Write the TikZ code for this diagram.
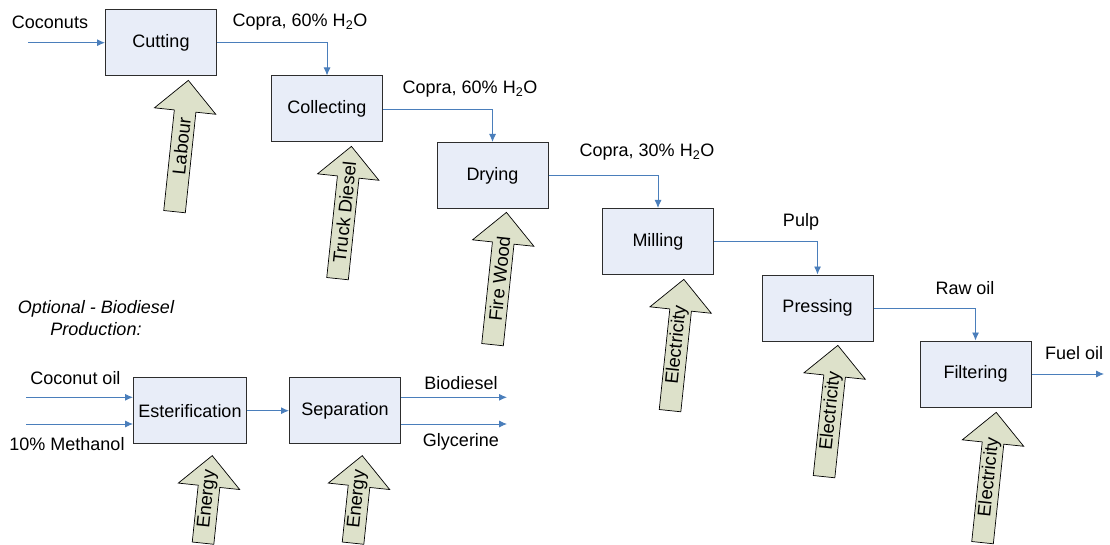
\documentclass[tikz,border=0pt]{standalone}
\usepackage{fontspec}
\setmainfont{Liberation Sans}
\usepackage{xcolor}
\usetikzlibrary{positioning,arrows.meta,shapes.arrows}

\definecolor{boxfill}{RGB}{232,237,248}
\definecolor{boxline}{RGB}{45,45,45}
\definecolor{flowblue}{RGB}{74,126,187}
\definecolor{arrowfill}{RGB}{221,225,202}

\begin{document}
\begin{tikzpicture}[
  x=1pt, y=-1pt,
  every node/.style={font=\fontsize{18}{21}\selectfont},
  process/.style={
    draw=boxline,
    line width=1pt,
    fill=boxfill,
    minimum width=111pt,
    minimum height=66pt,
    inner xsep=3pt
  },
  flow/.style={-{Latex[length=8pt,width=7pt]}, draw=flowblue, line width=0.9pt},
  label/.style={inner sep=1pt},
  bigarrow/.style={
    single arrow,
    draw=black,
    line width=0.7pt,
    fill=arrowfill,
    single arrow head extend=20pt,
    text height=13pt,
    text depth=4pt,
    inner ysep=2pt,
    inner xsep=0pt,
    minimum height=#1,
    anchor=tail,
    rotate=84
  },
  bigarrow/.default=132pt,
  arrowtext/.style={sloped, inner sep=0pt, font=\fontsize{18.5}{21}\selectfont}
]
  \useasboundingbox (0,0) rectangle (1110,545);

  % main line
  \node[process] (cutting) at (161,42.7) {Cutting};
  \node[process] (collecting) at (327,109) {Collecting};
  \node[process] (drying) at (492.5,175.5) {Drying};
  \node[process] (milling) at (658,241.5) {Milling};
  \node[process] (pressing) at (817.5,308) {Pressing};
  \node[process] (filtering) at (975.5,374) {Filtering};

  \coordinate (coconutsin) at (28,42.7);
  \coordinate (fueloilout) at (1104,374);

  \node[label] (coconuts) at (50,22) {Coconuts};
  \node[label] (copraA) at (300,22) {Copra, 60\% H\textsubscript{2}O};
  \node[label] (copraB) at (470,89) {Copra, 60\% H\textsubscript{2}O};
  \node[label] (copraC) at (647,152) {Copra, 30\% H\textsubscript{2}O};
  \node[label] (pulp) at (801,222) {Pulp};
  \node[label] (rawoil) at (965,288) {Raw oil};
  \node[label] (fueloil) at (1074,353) {Fuel oil};

  \draw[flow] (coconutsin) -- (cutting.west);
  \draw[flow] (cutting.east) -| (collecting.north);
  \draw[flow] (collecting.east) -| (drying.north);
  \draw[flow] (drying.east) -| (milling.north);
  \draw[flow] (milling.east) -| (pressing.north);
  \draw[flow] (pressing.east) -| (filtering.north);
  \draw[flow] (filtering.east) -- (fueloilout);

  % energy inputs
  \node[bigarrow] (labour) at (174.5,212) {};
  \node[bigarrow=133pt] (truckdiesel) at (337.5,279) {};
  \node[bigarrow=133pt] (firewood) at (492.5,345) {};
  \node[bigarrow] (elecmilling) at (670,411) {};
  \node[bigarrow] (elecpressing) at (824,477) {};
  \node[bigarrow=131pt] (elecfiltering) at (982.5,543) {};

  \path (labour.tail) -- node[arrowtext] {Labour} (labour.tip);
  \path (truckdiesel.tail) -- node[arrowtext] {Truck Diesel} (truckdiesel.tip);
  \path (firewood.tail) -- node[arrowtext] {Fire Wood} (firewood.tip);
  \path (elecmilling.tail) -- node[arrowtext] {Electricity} (elecmilling.tip);
  \path (elecpressing.tail) -- node[arrowtext] {Electricity} (elecpressing.tip);
  \path (elecfiltering.tail) -- node[arrowtext] {Electricity} (elecfiltering.tip);

  % optional biodiesel line
  \node[label, align=center, font=\fontsize{18}{22}\selectfont\itshape] (optional) at (96,318)
    {Optional - Biodiesel\\Production:};

  \node[process, minimum width=113pt] (esterification) at (190,410.7) {Esterification};
  \node[process] (separation) at (345,410.7) {Separation};

  \coordinate (oilin) at (26,397.3);
  \coordinate (methanolin) at (26,424);
  \coordinate (biodieselout) at (507,397.3);
  \coordinate (glycerineout) at (507,424);

  \node[label] (coconutoil) at (75.5,378) {Coconut oil};
  \node[label] (methanol) at (67,444) {10\% Methanol};
  \node[label] (biodiesel) at (461,383) {Biodiesel};
  \node[label] (glycerine) at (461,442) {Glycerine};

  \draw[flow] (oilin) -- (oilin -| esterification.west);
  \draw[flow] (methanolin) -- (methanolin -| esterification.west);
  \draw[flow] (esterification) -- (separation);
  \draw[flow] (biodieselout -| separation.east) -- (biodieselout);
  \draw[flow] (glycerineout -| separation.east) -- (glycerineout);

  \node[bigarrow=88pt] (energyester) at (203,543.5) {};
  \node[bigarrow=88pt] (energysep) at (353,543.5) {};
  \path (energyester.tail) -- node[arrowtext] {Energy} (energyester.tip);
  \path (energysep.tail) -- node[arrowtext] {Energy} (energysep.tip);
\end{tikzpicture}
\end{document}
